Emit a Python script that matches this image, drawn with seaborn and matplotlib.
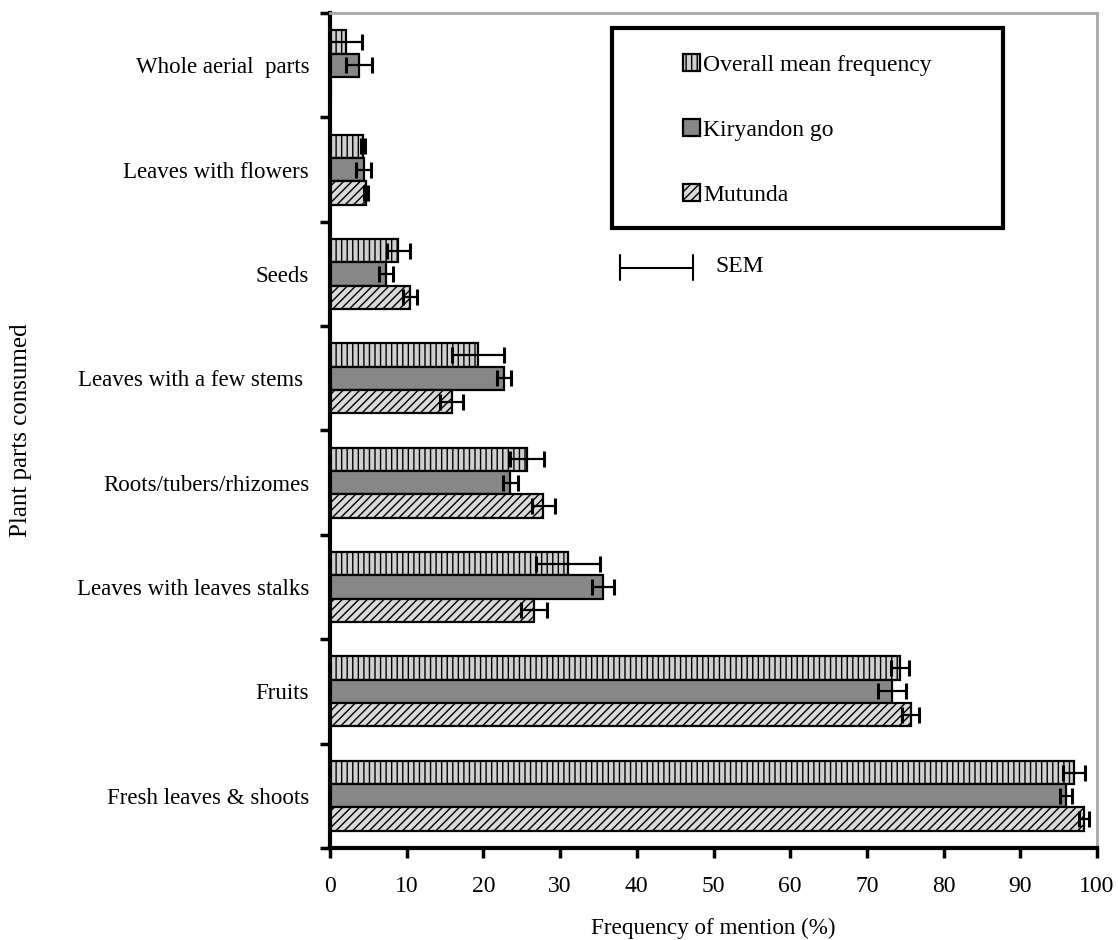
import matplotlib
matplotlib.use("Agg")
import matplotlib.pyplot as plt
import seaborn as sns
import pandas as pd
import numpy as np
from matplotlib.patches import Rectangle
from matplotlib.lines import Line2D

categories = ["Whole aerial parts", "Leaves with flowers", "Seeds",
              "Leaves with a few stems", "Roots/tubers/rhizomes",
              "Leaves with leaves stalks", "Fruits", "Fresh leaves & shoots"]
tick_labels = ["Whole aerial  parts", "Leaves with flowers", "Seeds",
               "Leaves with a few stems ", "Roots/tubers/rhizomes",
               "Leaves with leaves stalks", "Fruits", "Fresh leaves & shoots"]
series = ["Overall mean frequency", "Kiryandongo", "Mutunda"]
legend_labels = ["Overall mean frequency", "Kiryandon go", "Mutunda"]

overall = [2.1, 4.3, 8.9, 19.3, 25.7, 31.0, 74.3, 97.0]
overall_sem = [2.1, 0.3, 1.5, 3.4, 2.2, 4.2, 1.2, 1.4]
kiryandongo = [3.8, 4.4, 7.3, 22.7, 23.5, 35.6, 73.3, 96.0]
kiryandongo_sem = [1.7, 1.0, 0.9, 0.9, 1.0, 1.4, 1.8, 0.8]
mutunda = [0.0, 4.7, 10.4, 15.9, 27.8, 26.6, 75.7, 98.3]
mutunda_sem = [0.0, 0.3, 0.9, 1.5, 1.5, 1.7, 1.1, 0.6]

x_ticks = [0, 10, 20, 30, 40, 50, 60, 70, 80, 90, 100]

values = [overall, kiryandongo, mutunda]
sems = [overall_sem, kiryandongo_sem, mutunda_sem]

rows = []
for s, v in zip(series, values):
    for c, val in zip(categories, v):
        rows.append({"part": c, "series": s, "freq": val})
df = pd.DataFrame(rows)

sns.set_theme(style="white")
plt.rcParams['font.family'] = ['Liberation Serif', 'DejaVu Serif']
plt.rcParams['hatch.color'] = 'black'
plt.rcParams['hatch.linewidth'] = 1.0
for k in ['text.color', 'axes.labelcolor', 'xtick.color', 'ytick.color']:
    plt.rcParams[k] = 'black'

fig = plt.figure(figsize=(11.18, 9.40), dpi=100)
ax = fig.add_axes([330/1118, 1 - 848/940, (1097-330)/1118, (848-13)/940])

face = {"Overall mean frequency": "#d0d0d0", "Kiryandongo": "#878787", "Mutunda": "#dadada"}
hatches = ["|||", "", "////"]

sns.barplot(data=df, y="part", x="freq", hue="series", order=categories,
            hue_order=series, palette=face, orient="h", width=0.67,
            errorbar=None, edgecolor="black", linewidth=1.6, ax=ax, saturation=1)

for cont, h, sem in zip(ax.containers, hatches, sems):
    ys, xs = [], []
    for bar in cont:
        bar.set_hatch(h)
        ys.append(bar.get_y() + bar.get_height() / 2)
        xs.append(bar.get_width())
    ax.errorbar(xs, ys, xerr=sem, fmt="none", ecolor="black",
                elinewidth=1.6, capsize=5.5, capthick=2.2, zorder=5)

if ax.get_legend() is not None:
    ax.get_legend().remove()

ax.set_xlim(0, 100)
ax.set_ylim(7.5, -0.5)
ax.set_xticks(x_ticks)
ax.set_xticklabels([str(t) for t in x_ticks], fontsize=17)
ax.set_yticks(range(len(categories)))
ax.set_yticklabels(tick_labels, fontsize=16.5)
ax.set_yticks(np.arange(-0.5, len(categories), 1.0), minor=True)
ax.tick_params(axis="y", which="major", length=0, pad=15)
ax.tick_params(axis="y", which="minor", length=7, width=2.5, direction="out", color="black", left=True)
ax.tick_params(axis="x", which="major", length=7, width=2.5, direction="out", color="black", pad=13, bottom=True)

ax.set_xlabel("Frequency of mention (%)", fontsize=16.7, labelpad=15)
ax.set_ylabel("Plant parts consumed", fontsize=18, labelpad=32)

for side in ["left", "bottom"]:
    ax.spines[side].set_color("black")
    ax.spines[side].set_linewidth(3)
for side in ["right", "top"]:
    ax.spines[side].set_visible(True)
    ax.spines[side].set_color("#a8a8a8")
    ax.spines[side].set_linewidth(2)

# Legend frame and entries
ax.add_patch(Rectangle((0.368, 0.743), 0.877 - 0.368, 0.982 - 0.743,
                       transform=ax.transAxes, fill=False, edgecolor="black",
                       linewidth=3, zorder=6))
handles = [ax.containers[i][0] for i in range(3)]
leg = ax.legend(handles, legend_labels, loc="upper left",
                bbox_to_anchor=(0.445, 0.965), frameon=False, fontsize=17,
                handlelength=0.7, handleheight=0.7, handletextpad=0.15,
                labelspacing=1.85, borderpad=0)

# SEM scale annotation
ax.add_line(Line2D([0.378, 0.473], [0.695, 0.695], transform=ax.transAxes,
                   color="black", linewidth=1.5))
for xx in [0.378, 0.473]:
    ax.add_line(Line2D([xx, xx], [0.68, 0.71], transform=ax.transAxes,
                       color="black", linewidth=1.5))
ax.text(0.502, 0.697, "SEM", transform=ax.transAxes, fontsize=17,
        va="center", ha="left")

fig.savefig("out.png", dpi=100)
